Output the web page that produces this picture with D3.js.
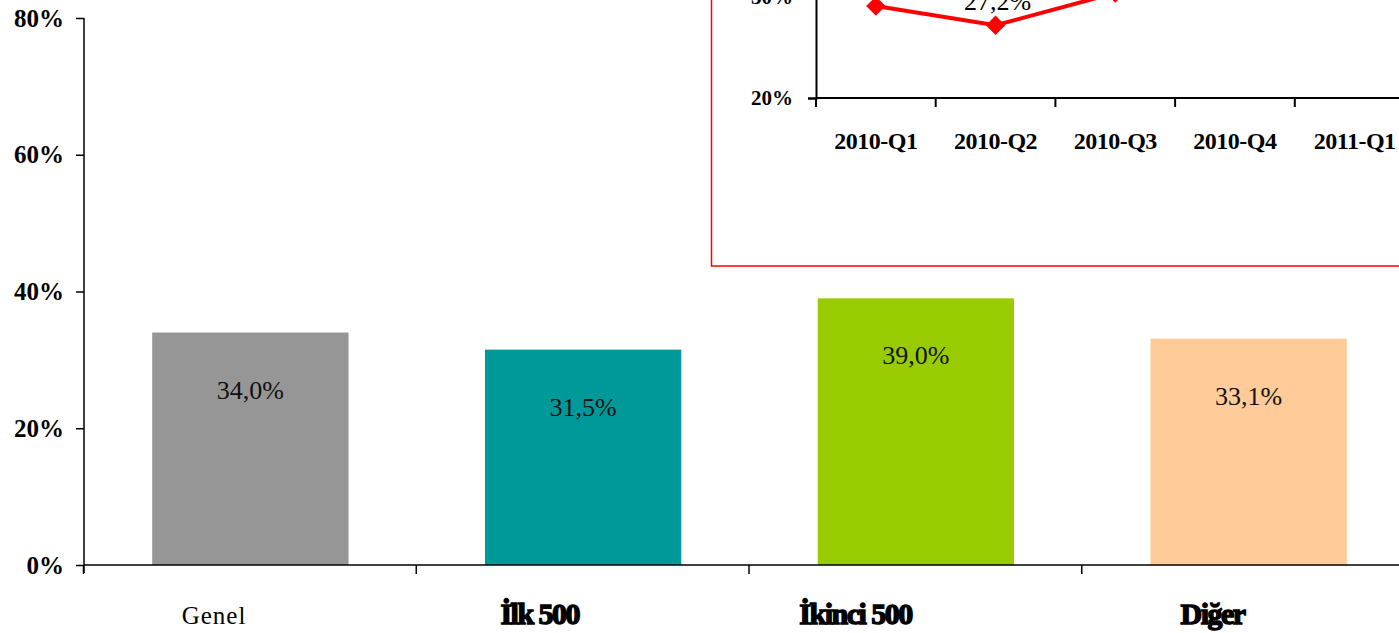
<!DOCTYPE html>
<html>
<head>
<meta charset="utf-8">
<script src="https://cdn.jsdelivr.net/npm/d3@7"></script>
<style>
  html, body { margin: 0; padding: 0; background: #fff; }
  svg { display: block; }
  text { font-family: "Palatino Linotype", "Book Antiqua", "Liberation Serif", "DejaVu Serif", serif; }
</style>
</head>
<body>
<div id="chart"></div>
<script>
// main bars
const categories = ['Genel', 'İlk 500', 'İkinci 500', 'Diğer'];
const values = [34.0, 31.5, 39.0, 33.1];
const barColors = ['#969696', '#009999', '#99cc00', '#ffcc99'];
const yTicks = [0, 20, 40, 60, 80];

// inset line chart
const quarters = ['2010-Q1', '2010-Q2', '2010-Q3', '2010-Q4', '2011-Q1'];
const quarterValues = [29.1, 27.2, 30.4, 33.0, 34.0];
const insetTicks = [20, 30, 40];

const width = 1399, height = 633;
const fmt = v => d3.format('.1f')(v).replace('.', ',') + '%';

const svg = d3.select('#chart').append('svg')
    .attr('width', width)
    .attr('height', height);

// scales for main chart
const x = d3.scaleBand()
    .domain(categories)
    .range([84, 1415])
    .paddingInner(0.41)
    .paddingOuter(0.205);

const y = d3.scaleLinear()
    .domain([0, 80])
    .range([565, 18]);

// bars
svg.selectAll('.bar')
    .data(categories)
    .enter()
    .append('rect')
    .attr('class', 'bar')
    .attr('x', d => x(d))
    .attr('width', x.bandwidth())
    .attr('y', (d, i) => y(values[i]))
    .attr('height', (d, i) => y(0) - y(values[i]))
    .attr('fill', (d, i) => barColors[i]);

// value labels inside bars
svg.selectAll('.bar-label')
    .data(categories)
    .enter()
    .append('text')
    .attr('class', 'bar-label')
    .attr('x', d => x(d) + x.bandwidth() / 2)
    .attr('y', (d, i) => y(values[i]) + 66)
    .attr('text-anchor', 'middle')
    .attr('font-size', '26px')
    .attr('fill', '#111')
    .text((d, i) => fmt(values[i]));

// y axis
const yAxis = d3.axisLeft(y)
    .tickValues(yTicks)
    .tickSize(8)
    .tickFormat(d => d + '%');

const yg = svg.append('g')
    .attr('transform', 'translate(84,0)')
    .call(yAxis);
yg.select('.domain').attr('d', 'M0,18V573').attr('stroke', '#000').attr('stroke-width', 1.5);
yg.selectAll('.tick line').attr('stroke', '#000').attr('stroke-width', 1.5);
yg.selectAll('.tick text')
    .attr('x', -20)
    .attr('font-size', '25px')
    .attr('font-weight', 'bold')
    .attr('fill', '#000')
    .style('font-family', '"Palatino Linotype", "Book Antiqua", "Liberation Serif", serif');

// x axis line and tick marks at band boundaries
svg.append('line')
    .attr('x1', 84).attr('x2', width)
    .attr('y1', y(0)).attr('y2', y(0))
    .attr('stroke', '#000').attr('stroke-width', 1.5);

const step = x.step();
svg.selectAll('.xtick')
    .data(categories)
    .enter()
    .append('line')
    .attr('class', 'xtick')
    .attr('x1', d => x(d) - step * 0.205 - 0.5)
    .attr('x2', d => x(d) - step * 0.205 - 0.5)
    .attr('y1', y(0))
    .attr('y2', y(0) + 9)
    .attr('stroke', '#000').attr('stroke-width', 1.5);

// category labels
svg.selectAll('.x-label')
    .data(categories)
    .enter()
    .append('text')
    .attr('class', 'x-label')
    .attr('x', d => x(d) + x.bandwidth() / 2 - 4)
    .attr('y', 624)
    .attr('text-anchor', 'end')
    .attr('font-size', (d, i) => i === 0 ? '25px' : '30px')
    .attr('font-weight', (d, i) => i === 0 ? 'normal' : 'bold')
    .attr('letter-spacing', (d, i) => i === 0 ? '1px' : '-1.5px')
    .attr('stroke', (d, i) => i === 0 ? 'none' : '#000')
    .attr('stroke-width', 1.4)
    .attr('fill', '#000')
    .text(d => d);

// ---- inset chart ----
const inset = svg.append('g').attr('class', 'inset');

inset.append('rect')
    .attr('x', 711.5)
    .attr('y', -20)
    .attr('width', 720)
    .attr('height', 286)
    .attr('fill', '#fff')
    .attr('stroke', '#ff0000')
    .attr('stroke-width', 1.5);

const xi = d3.scaleBand()
    .domain(quarters)
    .range([816, 1414.5]);

const yi = d3.scaleLinear()
    .domain([20, 40])
    .range([98, -104]);

const yiAxis = d3.axisLeft(yi)
    .tickValues(insetTicks)
    .tickSize(8)
    .tickFormat(d => d + '%');

const yig = inset.append('g')
    .attr('transform', 'translate(816,0)')
    .call(yiAxis);
yig.select('.domain').attr('stroke', '#000').attr('stroke-width', 2);
yig.selectAll('.tick line').attr('stroke', '#000').attr('stroke-width', 2);
yig.selectAll('.tick text')
    .attr('x', -23)
    .attr('font-size', '21px')
    .attr('font-weight', 'bold')
    .attr('fill', '#000')
    .style('font-family', '"Palatino Linotype", "Book Antiqua", "Liberation Serif", serif');

inset.append('line')
    .attr('x1', 816).attr('x2', width)
    .attr('y1', yi(20)).attr('y2', yi(20))
    .attr('stroke', '#000').attr('stroke-width', 2);

inset.selectAll('.qtick')
    .data(quarters)
    .enter()
    .append('line')
    .attr('class', 'qtick')
    .attr('x1', d => xi(d) + xi.bandwidth())
    .attr('x2', d => xi(d) + xi.bandwidth())
    .attr('y1', yi(20))
    .attr('y2', yi(20) + 9)
    .attr('stroke', '#000').attr('stroke-width', 2);

inset.append('line')
    .attr('x1', 816).attr('x2', 816)
    .attr('y1', yi(20)).attr('y2', yi(20) + 9)
    .attr('stroke', '#000').attr('stroke-width', 2);

inset.selectAll('.q-label')
    .data(quarters)
    .enter()
    .append('text')
    .attr('class', 'q-label')
    .attr('x', d => xi(d) + xi.bandwidth() / 2)
    .attr('y', 149)
    .attr('text-anchor', 'middle')
    .attr('font-size', '24px')
    .attr('font-weight', 'bold')
    .attr('letter-spacing', '-0.5px')
    .attr('fill', '#000')
    .text(d => d);

const line = d3.line()
    .x((d, i) => xi(quarters[i]) + xi.bandwidth() / 2)
    .y(d => yi(d));

inset.append('path')
    .datum(quarterValues)
    .attr('d', line)
    .attr('fill', 'none')
    .attr('stroke', '#ff0000')
    .attr('stroke-width', 4);

inset.selectAll('.marker')
    .data(quarterValues)
    .enter()
    .append('path')
    .attr('class', 'marker')
    .attr('d', d3.symbol().type(d3.symbolDiamond2).size(240))
    .attr('transform', (d, i) => `translate(${xi(quarters[i]) + xi.bandwidth() / 2},${yi(d)})`)
    .attr('fill', '#ff0000');

inset.selectAll('.q-value')
    .data(quarterValues)
    .enter()
    .append('text')
    .attr('class', 'q-value')
    .attr('x', (d, i) => xi(quarters[i]) + xi.bandwidth() / 2 + (i === 0 ? 38 : 2))
    .attr('y', d => yi(d) - 15)
    .attr('text-anchor', 'middle')
    .attr('font-size', '26px')
    .attr('fill', '#000')
    .text(d => fmt(d));
</script>
</body>
</html>
